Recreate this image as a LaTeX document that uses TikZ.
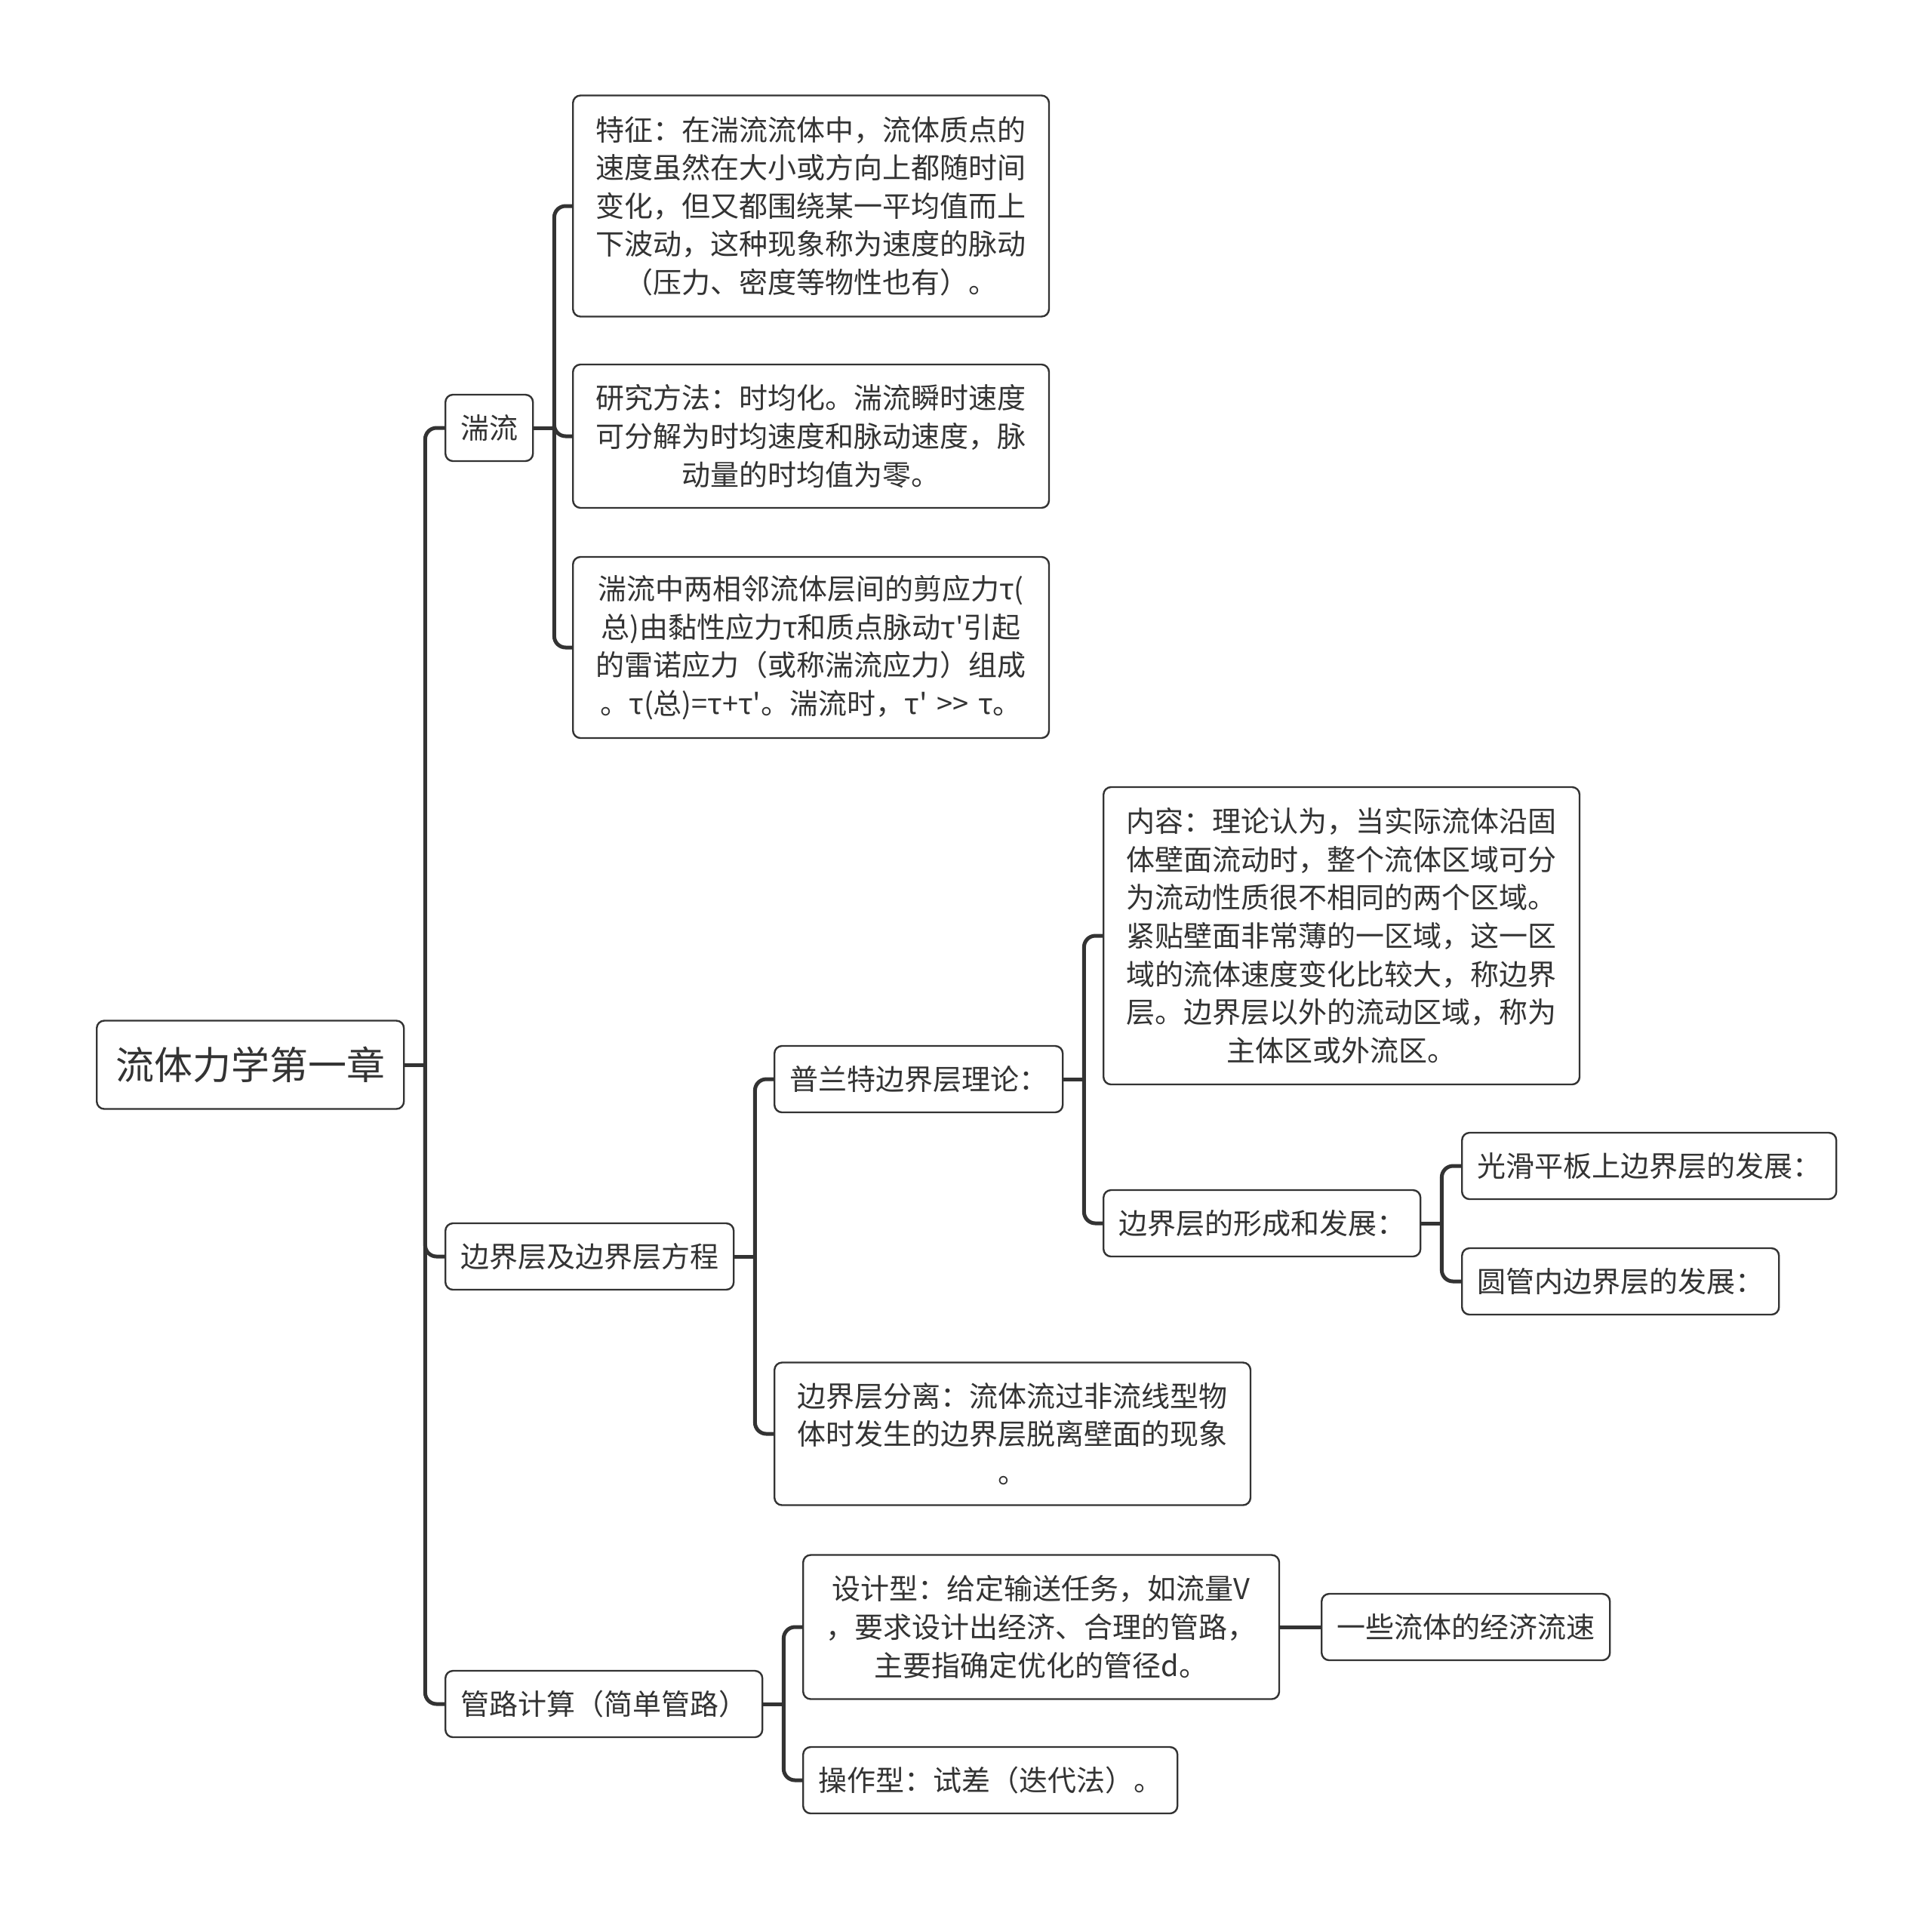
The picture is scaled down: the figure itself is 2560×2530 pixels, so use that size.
\documentclass[tikz,border=0pt]{standalone}
\usepackage{fontspec}
\setmainfont{Noto Sans CJK SC}[Ligatures=TeXOff]
\definecolor{ink}{HTML}{333333}
\begin{document}
\begin{tikzpicture}[x=0.25pt,y=-0.25pt,
  box/.style={draw=ink, text=ink, line width=0.6pt, rounded corners=2.5pt, fill=white, anchor=west,
    font=\fontsize{9.5pt}{12.65pt}\selectfont, inner xsep=5pt, inner ysep=0pt, minimum height=22pt},
  bigbox/.style={box, text width=142.5pt, align=center, inner xsep=7.6pt},
  rootbox/.style={box, font=\fontsize{12.75pt}{15pt}\selectfont, inner xsep=6.25pt, minimum height=29.25pt},
  conn/.style={draw=ink, line width=1.25pt, rounded corners=3.75pt},
]
\useasboundingbox (0,0) rectangle (2560,2530);

% nodes
\node[rootbox] (root) at (127,1411) {流体力学第一章};
\node[box] (tl) at (589,567) {湍流};
\node[box] (bj) at (589,1665) {边界层及边界层方程};
\node[box] (gl) at (589,2258) {管路计算（简单管路）};

\node[bigbox, minimum height=73.25pt] (tz) at (758,273) {特征：在湍流流体中，流体质点的\\%
速度虽然在大小或方向上都随时间\\%
变化，但又都围绕某一平均值而上\\%
下波动，这种现象称为速度的脉动\\%
（压力、密度等物性也有）。};
\node[bigbox, minimum height=47.5pt] (yj) at (758,578) {研究方法：时均化。湍流瞬时速度\\%
可分解为时均速度和脉动速度，脉\\%
动量的时均值为零。};
\node[bigbox, minimum height=60pt] (jy) at (758,858) {湍流中两相邻流体层间的剪应力τ(\\%
总)由黏性应力τ和质点脉动τ'引起\\%
的雷诺应力（或称湍流应力）组成\\%
。τ(总)=τ+τ'。湍流时，τ' >> τ。};

\node[box] (plt) at (1025,1430) {普兰特边界层理论：};
\node[bigbox, minimum height=47.25pt] (fl) at (1025,1900) {边界层分离：流体流过非流线型物\\%
体时发生的边界层脱离壁面的现象\\%
。};
\node[bigbox, minimum height=98.5pt] (nr) at (1461,1240) {内容：理论认为，当实际流体沿固\\%
体壁面流动时，整个流体区域可分\\%
为流动性质很不相同的两个区域。\\%
紧贴壁面非常薄的一区域，这一区\\%
域的流体速度变化比较大，称边界\\%
层。边界层以外的流动区域，称为\\%
主体区或外流区。};
\node[box] (xc) at (1461,1621) {边界层的形成和发展：};
\node[box] (gh) at (1936,1545) {光滑平板上边界层的发展：};
\node[box] (yg) at (1936,1698) {圆管内边界层的发展：};

\node[bigbox, minimum height=47.75pt] (sj) at (1063,2156) {设计型：给定输送任务，如流量V\\%
，要求设计出经济、合理的管路，\\%
主要指确定优化的管径d。};
\node[box] (cz) at (1063,2359) {操作型：试差（迭代法）。};
\node[box] (js) at (1750,2156) {一些流体的经济流速};

% connectors
\draw[conn] (root.east) -- ++(27,0);
\draw[conn] (root.east) ++(27,0) |- (tl.west);
\draw[conn] (root.east) ++(27,0) |- (bj.west);
\draw[conn] (root.east) ++(27,0) |- (gl.west);

\draw[conn] (tl.east) -- ++(27,0);
\draw[conn] (tl.east) ++(27,0) |- (tz.west);
\draw[conn] (tl.east) ++(27,0) |- (yj.west);
\draw[conn] (tl.east) ++(27,0) |- (jy.west);

\draw[conn] (bj.east) -- ++(27,0);
\draw[conn] (bj.east) ++(27,0) |- (plt.west);
\draw[conn] (bj.east) ++(27,0) |- (fl.west);

\draw[conn] (plt.east) -- ++(27,0);
\draw[conn] (plt.east) ++(27,0) |- (nr.west);
\draw[conn] (plt.east) ++(27,0) |- (xc.west);

\draw[conn] (xc.east) -- ++(27,0);
\draw[conn] (xc.east) ++(27,0) |- (gh.west);
\draw[conn] (xc.east) ++(27,0) |- (yg.west);

\draw[conn] (gl.east) -- ++(27,0);
\draw[conn] (gl.east) ++(27,0) |- (sj.west);
\draw[conn] (gl.east) ++(27,0) |- (cz.west);

\draw[conn] (sj.east) -- (js.west);
\end{tikzpicture}
\end{document}
